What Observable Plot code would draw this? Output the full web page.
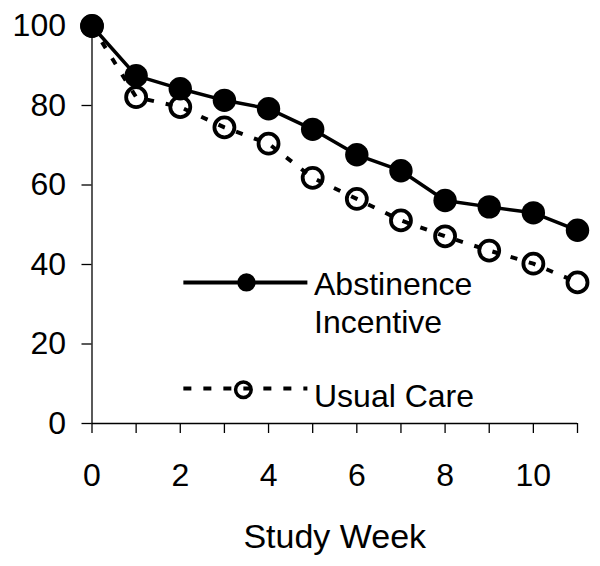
<!DOCTYPE html>
<html>
<head>
<meta charset="utf-8">
<script src="https://cdn.jsdelivr.net/npm/d3@7"></script>
<script src="https://cdn.jsdelivr.net/npm/@observablehq/plot@0.6"></script>
<style>
  html, body { margin: 0; padding: 0; background: #fff; }
  svg { font-family: "Liberation Sans", Arial, sans-serif; }
</style>
</head>
<body>
<div id="chart"></div>
<script>
const weeks = [0, 1, 2, 3, 4, 5, 6, 7, 8, 9, 10, 11];
const abstinence = [100, 87.5, 84.2, 81.3, 79.2, 74, 67.6, 63.6, 56.1, 54.5, 53, 48.6];
const usualCare = [100, 82.1, 79.6, 74.5, 70.4, 61.8, 56.5, 51.1, 47.1, 43.5, 40.2, 35.5];
const xTicks = [0, 2, 4, 6, 8, 10];
const xMinorTicks = [0, 1, 2, 3, 4, 5, 6, 7, 8, 9, 10, 11];
const yTicks = [0, 20, 40, 60, 80, 100];
const xLabel = "Study Week";

// legend placement (data coordinates)
const legendLineX = [2.07, 4.88];
const legendMarkerX = [3.5, 3.43];
const legendLineY = [35.5, 8.8];
const legendMarkerY = [35.5, 8.5];
const legendTextX = 5.03;
const legendTextY = [38.9, 10.8];
const legendText = ["Abstinence\nIncentive", "Usual Care"];

const absData = weeks.map((w, i) => ({week: w, value: abstinence[i]}));
const ucData = weeks.map((w, i) => ({week: w, value: usualCare[i]}));

const chart = Plot.plot({
  width: 600,
  height: 566,
  marginLeft: 91.5,
  marginRight: 23,
  marginTop: 25.5,
  marginBottom: 143,
  style: {fontFamily: "'Liberation Sans', Arial, sans-serif", color: "black", background: "white"},
  x: {domain: [0, 11]},
  y: {domain: [0, 100]},
  marks: [
    Plot.ruleX([0], {stroke: "black", strokeWidth: 1.3}),
    Plot.ruleY([0], {stroke: "black", strokeWidth: 1.3}),
    Plot.axisY({ticks: yTicks, tickSize: 10, tickPadding: 16, fontSize: 32, label: null, strokeWidth: 1.3, strokeOpacity: 1}),
    Plot.axisX({ticks: xMinorTicks, tickSize: 10, text: null, label: null, strokeWidth: 1.3, strokeOpacity: 1}),
    Plot.axisX({ticks: xTicks, tickSize: 0, tickPadding: 40, fontSize: 32, label: null}),
    Plot.text([xLabel], {frameAnchor: "bottom", dy: 100, lineAnchor: "top", fontSize: 34, fill: "black"}),
    // series lines
    Plot.line(ucData, {x: "week", y: "value", stroke: "black", strokeWidth: 4, strokeDasharray: "7,12", strokeLinecap: "butt"}),
    Plot.line(absData, {x: "week", y: "value", stroke: "black", strokeWidth: 3.5}),
    Plot.dot(ucData, {x: "week", y: "value", r: 10, stroke: "black", strokeWidth: 3.8, fill: "none"}),
    Plot.dot(absData, {x: "week", y: "value", r: 11.7, fill: "black", stroke: "none"}),
    // legend
    Plot.line(legendLineX.map(x => ({x, y: legendLineY[0]})), {x: "x", y: "y", stroke: "black", strokeWidth: 4, strokeLinecap: "butt"}),
    Plot.line(legendLineX.map(x => ({x, y: legendLineY[1]})), {x: "x", y: "y", stroke: "black", strokeWidth: 4, strokeDasharray: "8,12", strokeLinecap: "butt"}),
    Plot.dot([{x: legendMarkerX[0], y: legendMarkerY[0]}], {x: "x", y: "y", r: 9.2, fill: "black"}),
    Plot.dot([{x: legendMarkerX[1], y: legendMarkerY[1]}], {x: "x", y: "y", r: 7.8, stroke: "black", strokeWidth: 3.5, fill: "none"}),
    Plot.text(legendText.map((t, i) => ({t, x: legendTextX, y: legendTextY[i]})), {
      x: "x", y: "y", text: "t", textAnchor: "start", lineAnchor: "top", lineHeight: 1.17, fontSize: 32, fill: "black"
    })
  ]
});
document.getElementById("chart").appendChild(chart);
</script>
</body>
</html>
